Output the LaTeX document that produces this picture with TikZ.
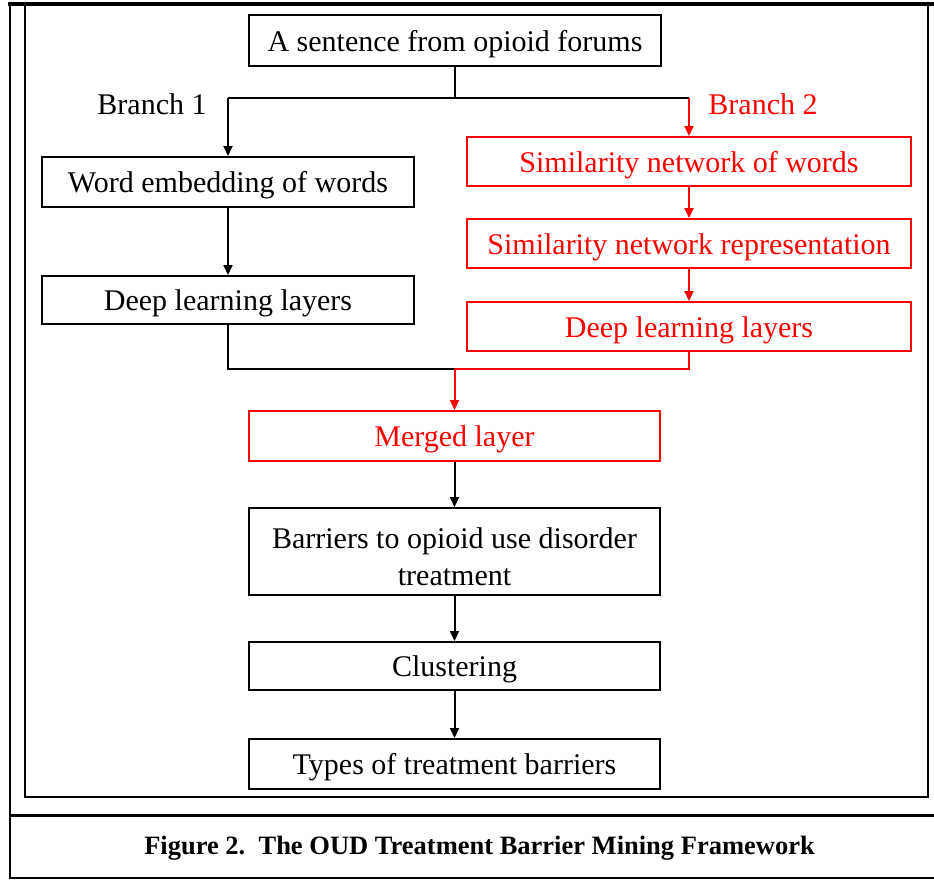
\documentclass[tikz,border=0pt]{standalone}
\usepackage{fontspec}
\setmainfont{Liberation Serif}
\usetikzlibrary{arrows.meta}
\definecolor{mred}{RGB}{255,0,0}
\tikzset{
  bboxbase/.style={draw=black, line width=2pt, inner sep=0pt, text=black,
    font=\fontsize{30}{37}\selectfont, align=center, anchor=center},
  bbox/.style={bboxbase, text height=24pt, text depth=3pt},
  rbox/.style={bbox, draw=mred, text=mred},
  conn/.style={line width=2pt, draw=black},
  rconn/.style={line width=2pt, draw=mred},
  arr/.style={-{Triangle[length=10pt,width=9pt]}},
  lbl/.style={font=\fontsize{30}{37}\selectfont, inner sep=0pt, anchor=center, align=center},
  frame/.style={line width=2pt, draw=black}
}
\begin{document}
\begin{tikzpicture}[x=1pt,y=-1pt]
\useasboundingbox (0,0) rectangle (934,879);
\fill[white] (0,0) rectangle (934,879);

% frames
\draw[frame] (25,4) -- (25,797) -- (928,797) -- (928,4);
\draw[frame] (10,3) -- (10,878) -- (934,878);
\draw[line width=4pt] (8,3.5) -- (934,3.5);
\draw[line width=3pt] (10,815) -- (934,815);

% nodes
\node[bbox, minimum width=412pt, minimum height=51pt] (top) at (455,40.5) {A sentence from opioid forums};
\node[bbox, minimum width=372pt, minimum height=50pt] (we) at (228,182) {Word embedding of words};
\node[bbox, minimum width=372pt, minimum height=48pt] (dl1) at (228,300) {Deep learning layers};
\node[rbox, minimum width=444pt, minimum height=49pt] (sn1) at (689,161.5) {Similarity network of words};
\node[rbox, minimum width=444pt, minimum height=49pt] (sn2) at (689,243.5) {Similarity network representation};
\node[rbox, minimum width=444pt, minimum height=49pt] (dl2) at (689,326.5) {Deep learning layers};
\node[rbox, minimum width=411pt, minimum height=50pt] (mg) at (454.5,436) {Merged layer};
\node[bboxbase, minimum width=411pt, minimum height=87pt] (bar) at (454.5,551.5) {};
\node[lbl, text=black] (bartxt) at (454.5,557) {Barriers to opioid use disorder\\treatment};
\node[bbox, minimum width=411pt, minimum height=48pt] (cl) at (454.5,666) {Clustering};
\node[bbox, minimum width=411pt, minimum height=50pt] (ty) at (454.5,764) {Types of treatment barriers};

\node[lbl, text=black] (br1) at (152,104) {Branch 1};
\node[lbl, text=mred] (br2) at (763,104) {Branch 2};

% connectors
\coordinate (split) at (455,98);
\coordinate (b1) at (228,98);
\coordinate (b2) at (689,98);
\draw[conn] (top.south) -- (split);
\draw[conn] (b1) -- (b2);
\draw[conn, arr] (b1) -- (we.north);
\draw[rconn, arr] (b2) -- (sn1.north);
\draw[conn, arr] (we) -- (dl1);
\draw[rconn, arr] (sn1) -- (sn2);
\draw[rconn, arr] (sn2) -- (dl2);

\coordinate (mj) at (454.5,369);
\draw[conn] (dl1.south) |- (mj);
\draw[rconn] (dl2.south) |- (mj);
\draw[rconn, arr] (mj) -- (mg.north);
\draw[conn, arr] (mg) -- (bar);
\draw[conn, arr] (bar) -- (cl);
\draw[conn, arr] (cl) -- (ty);

% caption
\node[inner sep=0pt, font=\fontsize{26.5}{30}\selectfont\bfseries] (cap) at (479.5,848) {Figure 2.\ \ The OUD Treatment Barrier Mining Framework};
\end{tikzpicture}
\end{document}
